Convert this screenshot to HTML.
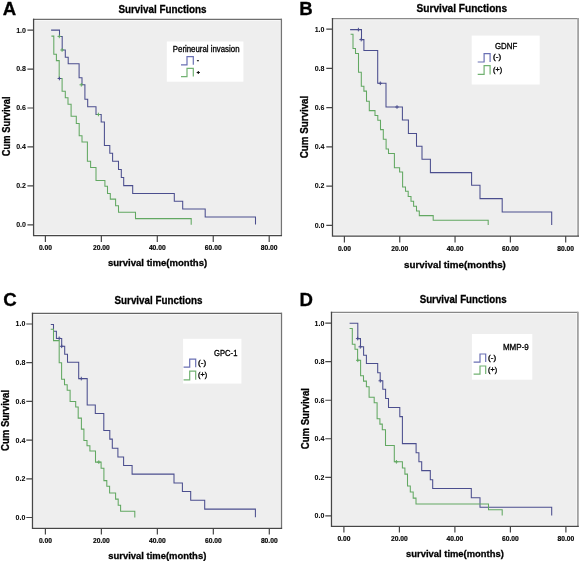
<!DOCTYPE html>
<html><head><meta charset="utf-8"><style>
html,body{margin:0;padding:0;background:#fff;}
svg{display:block;filter:blur(0.35px);}
text{font-family:"Liberation Sans", sans-serif;fill:#000;}
</style></head><body>
<svg width="580" height="562" viewBox="0 0 580 562">
<rect x="33.6" y="19.3" width="247.8" height="216.3" fill="#fafafa"/>
<rect x="35.1" y="20.8" width="244.8" height="213.3" fill="#eeeeee"/>
<path d="M32.95 19.3H281.4" stroke="#6e6e6e" stroke-width="1.3"/>
<path d="M281.4 18.65V235.6" stroke="#747474" stroke-width="1.3"/>
<path d="M33.6 18.65V236.25M32.95 235.6H282.05" stroke="#464646" stroke-width="1.3"/>
<text x="26" y="227.2" text-anchor="end" font-size="7.8" font-weight="bold" stroke="#000" stroke-width="0.05" textLength="9.8" lengthAdjust="spacingAndGlyphs">0.0</text>
<text x="26" y="188.26" text-anchor="end" font-size="7.8" font-weight="bold" stroke="#000" stroke-width="0.05" textLength="9.8" lengthAdjust="spacingAndGlyphs">0.2</text>
<text x="26" y="149.32" text-anchor="end" font-size="7.8" font-weight="bold" stroke="#000" stroke-width="0.05" textLength="9.8" lengthAdjust="spacingAndGlyphs">0.4</text>
<text x="26" y="110.38" text-anchor="end" font-size="7.8" font-weight="bold" stroke="#000" stroke-width="0.05" textLength="9.8" lengthAdjust="spacingAndGlyphs">0.6</text>
<text x="26" y="71.44" text-anchor="end" font-size="7.8" font-weight="bold" stroke="#000" stroke-width="0.05" textLength="9.8" lengthAdjust="spacingAndGlyphs">0.8</text>
<text x="26" y="32.5" text-anchor="end" font-size="7.8" font-weight="bold" stroke="#000" stroke-width="0.05" textLength="9.8" lengthAdjust="spacingAndGlyphs">1.0</text>
<text x="45.4" y="250.4" text-anchor="middle" font-size="8.0" font-weight="bold" stroke="#000" stroke-width="0.2" textLength="13.0" lengthAdjust="spacingAndGlyphs">0.00</text>
<text x="101.35" y="250.4" text-anchor="middle" font-size="8.0" font-weight="bold" stroke="#000" stroke-width="0.2" textLength="16.8" lengthAdjust="spacingAndGlyphs">20.00</text>
<text x="157.3" y="250.4" text-anchor="middle" font-size="8.0" font-weight="bold" stroke="#000" stroke-width="0.2" textLength="16.8" lengthAdjust="spacingAndGlyphs">40.00</text>
<text x="213.25" y="250.4" text-anchor="middle" font-size="8.0" font-weight="bold" stroke="#000" stroke-width="0.2" textLength="16.8" lengthAdjust="spacingAndGlyphs">60.00</text>
<text x="269.2" y="250.4" text-anchor="middle" font-size="8.0" font-weight="bold" stroke="#000" stroke-width="0.2" textLength="16.8" lengthAdjust="spacingAndGlyphs">80.00</text>
<path d="M27.4 224.8H33.6M27.4 185.86H33.6M27.4 146.92H33.6M27.4 107.98H33.6M27.4 69.04H33.6M27.4 30.1H33.6M45.4 235.6V241.9M101.35 235.6V241.9M157.3 235.6V241.9M213.25 235.6V241.9M269.2 235.6V241.9" stroke="#464646" stroke-width="1.2" fill="none"/>
<text x="2.7" y="14.7" font-size="18.6" font-weight="bold" stroke="#000" stroke-width="0.3">A</text>
<text x="118.4" y="12.8" font-size="10.6" font-weight="bold" stroke="#000" stroke-width="0.3" textLength="88.2" lengthAdjust="spacingAndGlyphs">Survival Functions</text>
<text transform="translate(10 156.2) rotate(-90)" x="0" y="0" font-size="10.8" font-weight="bold" stroke="#000" stroke-width="0.3" textLength="59.8" lengthAdjust="spacingAndGlyphs">Cum Survival</text>
<text x="107.9" y="265.9" font-size="9.9" font-weight="bold" stroke="#000" stroke-width="0.3" textLength="99.3" lengthAdjust="spacingAndGlyphs">survival time(months)</text>
<rect x="166.8" y="41.5" width="76.6" height="40.2" fill="#ffffff"/>
<text x="172.8" y="52.3" font-size="8.2" stroke="#000" stroke-width="0.3" textLength="66.7" lengthAdjust="spacingAndGlyphs" fill="#000">Perineural invasion</text>
<path d="M181 64.8H187V56.6H193.3V64.8" stroke="#6a70b4" stroke-width="1.2" fill="none"/>
<path d="M196.9 60.7H198.9" stroke="#111" stroke-width="1.1"/>
<path d="M181 76.6H187V68.4H193.3V76.6" stroke="#72b272" stroke-width="1.2" fill="none"/>
<path d="M196.7 72.5H199.9M198.3 70.9V74.1" stroke="#111" stroke-width="1.1"/>
<path d="M51.1 30.1H59.5V36.5H62.2V50H65.3V57.3H68.2V63.8H79.1V77.7H82V84.8H84.9V99.3H87.7V106.8H96V114.5H101.2V122H104.4V145.5H109.8V153.3H112.6V161.2H118.5V169.5H121.3V177.4H123.7V185.6H132.7V193.4H174.3V201.3H182.7V209H205.2V217H255.5V224.6" stroke="#4b4e8e" stroke-width="1.05" fill="none"/>
<path d="M51.4 36.1H53.8V54.2H56.4V60.6H59.2V78.4H62.1V91.2H65.3V97.7H68V104.2H71.1V116.3H76.3V123.5H79.2V135.8H82V142H87.4V161.2H90.6V167.4H96V180.4H104.9V186.3H107.5V193.5H110.3V199.1H115.6V205.8H118.5V212.2H135.5V218.6H191.2V224.8" stroke="#62a862" stroke-width="1.05" fill="none"/>
<path d="M57.5 36.4H61.1M59.3 34.6V38.2" stroke="#62a862" stroke-width="1.0"/>
<path d="M60.3 50H63.9M62.1 48.2V51.8" stroke="#62a862" stroke-width="1.0"/>
<path d="M79.5 84.8H83.1M81.3 83V86.6" stroke="#62a862" stroke-width="1.0"/>
<path d="M96.6 114.5H100.2M98.4 112.7V116.3" stroke="#62a862" stroke-width="1.0"/>
<path d="M57.6 78.5H61.2M59.4 76.7V80.3" stroke="#4b4e8e" stroke-width="1.0"/>
<rect x="332.5" y="18.7" width="245.6" height="217.4" fill="#fafafa"/>
<rect x="334" y="20.2" width="242.6" height="214.4" fill="#eeeeee"/>
<path d="M331.85 18.7H578.1" stroke="#8a8a8a" stroke-width="1.3"/>
<path d="M578.1 18.05V236.1" stroke="#a2a2a2" stroke-width="1.8"/>
<path d="M332.5 18.05V236.75M331.85 236.1H579" stroke="#464646" stroke-width="1.3"/>
<text x="324.5" y="227.7" text-anchor="end" font-size="7.8" font-weight="bold" stroke="#000" stroke-width="0.05" textLength="9.8" lengthAdjust="spacingAndGlyphs">0.0</text>
<text x="324.5" y="188.46" text-anchor="end" font-size="7.8" font-weight="bold" stroke="#000" stroke-width="0.05" textLength="9.8" lengthAdjust="spacingAndGlyphs">0.2</text>
<text x="324.5" y="149.22" text-anchor="end" font-size="7.8" font-weight="bold" stroke="#000" stroke-width="0.05" textLength="9.8" lengthAdjust="spacingAndGlyphs">0.4</text>
<text x="324.5" y="109.98" text-anchor="end" font-size="7.8" font-weight="bold" stroke="#000" stroke-width="0.05" textLength="9.8" lengthAdjust="spacingAndGlyphs">0.6</text>
<text x="324.5" y="70.74" text-anchor="end" font-size="7.8" font-weight="bold" stroke="#000" stroke-width="0.05" textLength="9.8" lengthAdjust="spacingAndGlyphs">0.8</text>
<text x="324.5" y="31.5" text-anchor="end" font-size="7.8" font-weight="bold" stroke="#000" stroke-width="0.05" textLength="9.8" lengthAdjust="spacingAndGlyphs">1.0</text>
<text x="344.4" y="251.1" text-anchor="middle" font-size="8.0" font-weight="bold" stroke="#000" stroke-width="0.2" textLength="13.0" lengthAdjust="spacingAndGlyphs">0.00</text>
<text x="399.73" y="251.1" text-anchor="middle" font-size="8.0" font-weight="bold" stroke="#000" stroke-width="0.2" textLength="16.8" lengthAdjust="spacingAndGlyphs">20.00</text>
<text x="455.05" y="251.1" text-anchor="middle" font-size="8.0" font-weight="bold" stroke="#000" stroke-width="0.2" textLength="16.8" lengthAdjust="spacingAndGlyphs">40.00</text>
<text x="510.38" y="251.1" text-anchor="middle" font-size="8.0" font-weight="bold" stroke="#000" stroke-width="0.2" textLength="16.8" lengthAdjust="spacingAndGlyphs">60.00</text>
<text x="565.7" y="251.1" text-anchor="middle" font-size="8.0" font-weight="bold" stroke="#000" stroke-width="0.2" textLength="16.8" lengthAdjust="spacingAndGlyphs">80.00</text>
<path d="M326.3 225.3H332.5M326.3 186.06H332.5M326.3 146.82H332.5M326.3 107.58H332.5M326.3 68.34H332.5M326.3 29.1H332.5M344.4 236.1V242.4M399.73 236.1V242.4M455.05 236.1V242.4M510.38 236.1V242.4M565.7 236.1V242.4" stroke="#464646" stroke-width="1.2" fill="none"/>
<text x="299.3" y="14.7" font-size="18.6" font-weight="bold" stroke="#000" stroke-width="0.3">B</text>
<text x="416.6" y="12.2" font-size="10.6" font-weight="bold" stroke="#000" stroke-width="0.3" textLength="90.6" lengthAdjust="spacingAndGlyphs">Survival Functions</text>
<text transform="translate(307.8 158.3) rotate(-90)" x="0" y="0" font-size="10.8" font-weight="bold" stroke="#000" stroke-width="0.3" textLength="62.6" lengthAdjust="spacingAndGlyphs">Cum Survival</text>
<text x="404.1" y="267.9" font-size="9.9" font-weight="bold" stroke="#000" stroke-width="0.3" textLength="101.8" lengthAdjust="spacingAndGlyphs">survival time(months)</text>
<rect x="471.7" y="35.6" width="68" height="48.9" fill="#ffffff"/>
<text x="494.9" y="48.9" font-size="8.2" stroke="#000" stroke-width="0.3" textLength="22.3" lengthAdjust="spacingAndGlyphs" fill="#000">GDNF</text>
<path d="M477.7 62H484.1V53.7H490.1V62" stroke="#6a70b4" stroke-width="1.2" fill="none"/>
<text x="493.1" y="59.45" font-size="6.3" stroke="#000" stroke-width="0.3" textLength="8" lengthAdjust="spacingAndGlyphs">(-)</text>
<path d="M477.7 74.4H484.1V65.6H490.1V74.4" stroke="#72b272" stroke-width="1.2" fill="none"/>
<text x="493.1" y="71.6" font-size="6.3" stroke="#000" stroke-width="0.3" textLength="9" lengthAdjust="spacingAndGlyphs">(+)</text>
<path d="M350.1 29.6H361.5V39.6H363.9V50.5H377.7V83.3H386V107H402.4V119.9H408.4V133.4H416.5V146.3H422V159.3H430.4V172.6H471.6V185.3H480V198.6H502.2V211.9H551.7V224.9" stroke="#4b4e8e" stroke-width="1.05" fill="none"/>
<path d="M350.6 34.3H353V48.5H355.5V53.5H358.5V72.3H361.3V86.3H363.9V91.1H366.5V101.2H369.3V110.6H375V115.4H377.8V120.3H380.5V129.6H383.3V139.3H386.1V148.9H388.5V153.4H394.4V167.8H399.6V172H402.6V186.9H405.5V191.2H408.2V196.4H411V201.2H413.6V206.3H416.5V211H419.3V215.6H433.2V220.3H488.2V224.9" stroke="#62a862" stroke-width="1.05" fill="none"/>
<path d="M356.6 29.6H360.2M358.4 27.8V31.4" stroke="#4b4e8e" stroke-width="1.0"/>
<path d="M359.4 39.6H363M361.2 37.8V41.4" stroke="#4b4e8e" stroke-width="1.0"/>
<path d="M378.5 83.3H382.1M380.3 81.5V85.1" stroke="#4b4e8e" stroke-width="1.0"/>
<path d="M395.2 107H398.8M397 105.2V108.8" stroke="#4b4e8e" stroke-width="1.0"/>
<rect x="32.5" y="313.3" width="249" height="215" fill="#fafafa"/>
<rect x="34" y="314.8" width="246" height="212" fill="#eeeeee"/>
<path d="M31.85 313.3H281.5" stroke="#646464" stroke-width="1.3"/>
<path d="M281.5 312.65V528.3" stroke="#747474" stroke-width="1.3"/>
<path d="M32.5 312.65V528.95M31.85 528.3H282.15" stroke="#464646" stroke-width="1.3"/>
<text x="25.3" y="519.9" text-anchor="end" font-size="7.8" font-weight="bold" stroke="#000" stroke-width="0.05" textLength="9.8" lengthAdjust="spacingAndGlyphs">0.0</text>
<text x="25.3" y="481.2" text-anchor="end" font-size="7.8" font-weight="bold" stroke="#000" stroke-width="0.05" textLength="9.8" lengthAdjust="spacingAndGlyphs">0.2</text>
<text x="25.3" y="442.5" text-anchor="end" font-size="7.8" font-weight="bold" stroke="#000" stroke-width="0.05" textLength="9.8" lengthAdjust="spacingAndGlyphs">0.4</text>
<text x="25.3" y="403.8" text-anchor="end" font-size="7.8" font-weight="bold" stroke="#000" stroke-width="0.05" textLength="9.8" lengthAdjust="spacingAndGlyphs">0.6</text>
<text x="25.3" y="365.1" text-anchor="end" font-size="7.8" font-weight="bold" stroke="#000" stroke-width="0.05" textLength="9.8" lengthAdjust="spacingAndGlyphs">0.8</text>
<text x="25.3" y="326.4" text-anchor="end" font-size="7.8" font-weight="bold" stroke="#000" stroke-width="0.05" textLength="9.8" lengthAdjust="spacingAndGlyphs">1.0</text>
<text x="45.4" y="543.4" text-anchor="middle" font-size="8.0" font-weight="bold" stroke="#000" stroke-width="0.2" textLength="13.0" lengthAdjust="spacingAndGlyphs">0.00</text>
<text x="101.38" y="543.4" text-anchor="middle" font-size="8.0" font-weight="bold" stroke="#000" stroke-width="0.2" textLength="16.8" lengthAdjust="spacingAndGlyphs">20.00</text>
<text x="157.35" y="543.4" text-anchor="middle" font-size="8.0" font-weight="bold" stroke="#000" stroke-width="0.2" textLength="16.8" lengthAdjust="spacingAndGlyphs">40.00</text>
<text x="213.33" y="543.4" text-anchor="middle" font-size="8.0" font-weight="bold" stroke="#000" stroke-width="0.2" textLength="16.8" lengthAdjust="spacingAndGlyphs">60.00</text>
<text x="269.3" y="543.4" text-anchor="middle" font-size="8.0" font-weight="bold" stroke="#000" stroke-width="0.2" textLength="16.8" lengthAdjust="spacingAndGlyphs">80.00</text>
<path d="M26.3 517.5H32.5M26.3 478.8H32.5M26.3 440.1H32.5M26.3 401.4H32.5M26.3 362.7H32.5M26.3 324H32.5M45.4 528.3V534.6M101.38 528.3V534.6M157.35 528.3V534.6M213.33 528.3V534.6M269.3 528.3V534.6" stroke="#464646" stroke-width="1.2" fill="none"/>
<text x="3.3" y="305.8" font-size="18.6" font-weight="bold" stroke="#000" stroke-width="0.3">C</text>
<text x="114.5" y="303.6" font-size="10.6" font-weight="bold" stroke="#000" stroke-width="0.3" textLength="87.9" lengthAdjust="spacingAndGlyphs">Survival Functions</text>
<text transform="translate(8.9 451) rotate(-90)" x="0" y="0" font-size="10.8" font-weight="bold" stroke="#000" stroke-width="0.3" textLength="61.1" lengthAdjust="spacingAndGlyphs">Cum Survival</text>
<text x="108.2" y="558.6" font-size="9.9" font-weight="bold" stroke="#000" stroke-width="0.3" textLength="98.1" lengthAdjust="spacingAndGlyphs">survival time(months)</text>
<rect x="183.1" y="338.8" width="58.3" height="44.8" fill="#ffffff"/>
<text x="214.1" y="355.5" font-size="8.2" stroke="#000" stroke-width="0.3" textLength="23.3" lengthAdjust="spacingAndGlyphs" fill="#000">GPC-1</text>
<path d="M183.6 367.2H189.7V359.1H195.7V367.2" stroke="#6a70b4" stroke-width="1.2" fill="none"/>
<text x="198.1" y="364.75" font-size="6.3" stroke="#000" stroke-width="0.3" textLength="8" lengthAdjust="spacingAndGlyphs">(-)</text>
<path d="M183.6 379.8H189.7V371.2H195.7V379.8" stroke="#72b272" stroke-width="1.2" fill="none"/>
<text x="198.1" y="377.1" font-size="6.3" stroke="#000" stroke-width="0.3" textLength="9" lengthAdjust="spacingAndGlyphs">(+)</text>
<path d="M50.8 324.4H53.5V331.2H56.4V338.5H61.7V346.3H64.7V354.3H67.5V362.3H78.7V378.6H87.2V404.9H95.3V413.5H103.8V430.5H109.8V439.1H112.3V448.3H117.9V457H123.6V465.5H132.1V474.1H174V482.9H182.4V491.4H190.7V500.3H204.7V509.1H255.4V517.2" stroke="#4b4e8e" stroke-width="1.05" fill="none"/>
<path d="M50.7 329.3H53.5V340.6H59.2V362.7H61.6V379.3H64.5V384.7H67.2V390.3H70.1V401.4H75.7V407H78.2V418.1H81.4V429.1H83.9V440.5H87V445.8H89.9V451H95.5V462.1H101.1V468.2H103.9V480.6H106.8V486.3H109.6V493H115.6V499.1H118.2V505.2H120.6V511.2H134.8V517.5" stroke="#62a862" stroke-width="1.05" fill="none"/>
<path d="M57.4 338.3H61M59.2 336.5V340.1" stroke="#4b4e8e" stroke-width="1.0"/>
<path d="M59.9 346.3H63.5M61.7 344.5V348.1" stroke="#4b4e8e" stroke-width="1.0"/>
<path d="M79.5 378.6H83.1M81.3 376.8V380.4" stroke="#4b4e8e" stroke-width="1.0"/>
<path d="M97 462.1H100.6M98.8 460.3V463.9" stroke="#62a862" stroke-width="1.0"/>
<rect x="331.5" y="312.3" width="246.4" height="214" fill="#fafafa"/>
<rect x="333" y="313.8" width="243.4" height="211" fill="#eeeeee"/>
<path d="M330.85 312.3H577.9" stroke="#888888" stroke-width="1.3"/>
<path d="M577.9 311.65V526.3" stroke="#a2a2a2" stroke-width="1.8"/>
<path d="M331.5 311.65V526.95M330.85 526.3H578.8" stroke="#464646" stroke-width="1.3"/>
<text x="324.4" y="518.2" text-anchor="end" font-size="7.8" font-weight="bold" stroke="#000" stroke-width="0.05" textLength="9.8" lengthAdjust="spacingAndGlyphs">0.0</text>
<text x="324.4" y="479.68" text-anchor="end" font-size="7.8" font-weight="bold" stroke="#000" stroke-width="0.05" textLength="9.8" lengthAdjust="spacingAndGlyphs">0.2</text>
<text x="324.4" y="441.16" text-anchor="end" font-size="7.8" font-weight="bold" stroke="#000" stroke-width="0.05" textLength="9.8" lengthAdjust="spacingAndGlyphs">0.4</text>
<text x="324.4" y="402.64" text-anchor="end" font-size="7.8" font-weight="bold" stroke="#000" stroke-width="0.05" textLength="9.8" lengthAdjust="spacingAndGlyphs">0.6</text>
<text x="324.4" y="364.12" text-anchor="end" font-size="7.8" font-weight="bold" stroke="#000" stroke-width="0.05" textLength="9.8" lengthAdjust="spacingAndGlyphs">0.8</text>
<text x="324.4" y="325.6" text-anchor="end" font-size="7.8" font-weight="bold" stroke="#000" stroke-width="0.05" textLength="9.8" lengthAdjust="spacingAndGlyphs">1.0</text>
<text x="343.9" y="541.2" text-anchor="middle" font-size="8.0" font-weight="bold" stroke="#000" stroke-width="0.2" textLength="13.0" lengthAdjust="spacingAndGlyphs">0.00</text>
<text x="399.4" y="541.2" text-anchor="middle" font-size="8.0" font-weight="bold" stroke="#000" stroke-width="0.2" textLength="16.8" lengthAdjust="spacingAndGlyphs">20.00</text>
<text x="454.9" y="541.2" text-anchor="middle" font-size="8.0" font-weight="bold" stroke="#000" stroke-width="0.2" textLength="16.8" lengthAdjust="spacingAndGlyphs">40.00</text>
<text x="510.4" y="541.2" text-anchor="middle" font-size="8.0" font-weight="bold" stroke="#000" stroke-width="0.2" textLength="16.8" lengthAdjust="spacingAndGlyphs">60.00</text>
<text x="565.9" y="541.2" text-anchor="middle" font-size="8.0" font-weight="bold" stroke="#000" stroke-width="0.2" textLength="16.8" lengthAdjust="spacingAndGlyphs">80.00</text>
<path d="M325.3 515.8H331.5M325.3 477.28H331.5M325.3 438.76H331.5M325.3 400.24H331.5M325.3 361.72H331.5M325.3 323.2H331.5M343.9 526.3V532.6M399.4 526.3V532.6M454.9 526.3V532.6M510.4 526.3V532.6M565.9 526.3V532.6" stroke="#464646" stroke-width="1.2" fill="none"/>
<text x="299.4" y="305.6" font-size="18.6" font-weight="bold" stroke="#000" stroke-width="0.3">D</text>
<text x="419.7" y="303" font-size="10.6" font-weight="bold" stroke="#000" stroke-width="0.3" textLength="86.9" lengthAdjust="spacingAndGlyphs">Survival Functions</text>
<text transform="translate(308.7 449.2) rotate(-90)" x="0" y="0" font-size="10.8" font-weight="bold" stroke="#000" stroke-width="0.3" textLength="61.1" lengthAdjust="spacingAndGlyphs">Cum Survival</text>
<text x="406.1" y="556.9" font-size="9.9" font-weight="bold" stroke="#000" stroke-width="0.3" textLength="97.7" lengthAdjust="spacingAndGlyphs">survival time(months)</text>
<rect x="471.9" y="334" width="60.4" height="45.7" fill="#ffffff"/>
<text x="502.9" y="350.3" font-size="8.2" stroke="#000" stroke-width="0.3" textLength="25.9" lengthAdjust="spacingAndGlyphs" fill="#000">MMP-9</text>
<path d="M473.6 362.1H480V354H485.7V362.1" stroke="#6a70b4" stroke-width="1.2" fill="none"/>
<text x="488.1" y="359.65" font-size="6.3" stroke="#000" stroke-width="0.3" textLength="8" lengthAdjust="spacingAndGlyphs">(-)</text>
<path d="M473.6 374.1H480V366H485.7V374.1" stroke="#72b272" stroke-width="1.2" fill="none"/>
<text x="488.1" y="371.65" font-size="6.3" stroke="#000" stroke-width="0.3" textLength="9" lengthAdjust="spacingAndGlyphs">(+)</text>
<path d="M349.6 323.2H357.8V338.6H360.5V346.8H363.6V355.3H366.4V363.4H377.7V372.7H380.2V380.8H382.8V389.2H385.6V398.5H388.5V407.5H399.8V416.6H402.4V443.6H416.1V452.7H418.9V461.8H421.7V470.6H430.3V479.8H432.7V488.5H471.3V497.8H480V507.2H551.7V515.4" stroke="#4b4e8e" stroke-width="1.05" fill="none"/>
<path d="M349.6 328.5H352.3V344.2H355V349.2H357.6V360.3H360.6V375.8H363.5V381.1H366.4V386.8H369.1V397.3H374.2V402.8H377.1V418.8H379.9V424.1H382.3V429.8H385.5V445.4H394.3V461.8H402.4V468H404.9V474.1H407.5V486H410.3V491.9H413.2V498.1H416V503.9H488.5V509.8H502.2V515.4" stroke="#62a862" stroke-width="1.05" fill="none"/>
<path d="M355.9 338.6H359.5M357.7 336.8V340.4" stroke="#4b4e8e" stroke-width="1.0"/>
<path d="M358.5 346.8H362.1M360.3 345V348.6" stroke="#4b4e8e" stroke-width="1.0"/>
<path d="M378.5 380.8H382.1M380.3 379V382.6" stroke="#4b4e8e" stroke-width="1.0"/>
<path d="M356 360.3H359.6M357.8 358.5V362.1" stroke="#62a862" stroke-width="1.0"/>
<path d="M394.6 461.8H398.2M396.4 460V463.6" stroke="#62a862" stroke-width="1.0"/>
</svg>
</body></html>
